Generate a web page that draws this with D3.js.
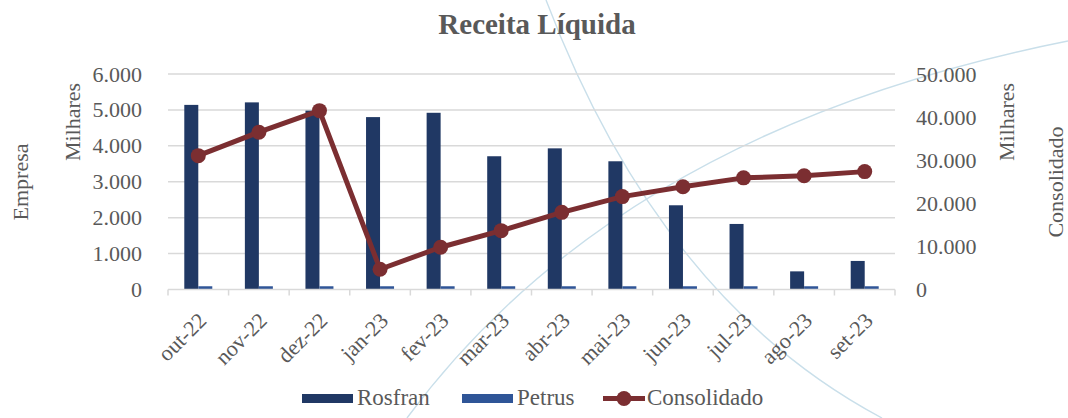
<!DOCTYPE html>
<html>
<head>
<meta charset="utf-8">
<script src="https://cdn.jsdelivr.net/npm/d3@7"></script>
<style>
  body { margin: 0; background: #fff; }
  text { font-family: "Liberation Serif", serif; fill: #595959; }
</style>
</head>
<body>
<div id="chart"></div>
<script>
// data
months = ["out-22", "nov-22", "dez-22", "jan-23", "fev-23", "mar-23",
          "abr-23", "mai-23", "jun-23", "jul-23", "ago-23", "set-23"]
rosfran = [5140, 5210, 4980, 4800, 4920, 3710, 3930, 3570, 2345, 1825, 505, 795]
petrus = [90, 90, 90, 90, 90, 90, 90, 90, 90, 90, 90, 90]
consolidado = [31050, 36500, 41500, 4700, 9800, 13650, 17900, 21550, 23850, 25900, 26400, 27350]
leftTicks = [0, 1000, 2000, 3000, 4000, 5000, 6000]
rightTicks = [0, 10000, 20000, 30000, 40000, 50000]
legendKeys = ["Rosfran", "Petrus", "Consolidado"]

width = 1068
height = 418
margin = ({top: 74, right: 173, bottom: 128.5, left: 168})

colRosfran = "#203864"
colPetrus = "#2F5597"
colCons = "#7B2E31"
gridCol = "#D9D9D9"

br = d3.formatLocale({decimal: ",", thousands: ".", grouping: [3], currency: ["R$", ""]})
fmt = br.format(",.0f")

xscale = d3.scaleBand()
    .domain(months)
    .range([margin.left, width - margin.right])

yLeft = d3.scaleLinear()
    .domain([0, 6000])
    .range([height - margin.bottom, margin.top])

yRight = d3.scaleLinear()
    .domain([0, 50000])
    .range([height - margin.bottom, margin.top])

const svg = d3.select("#chart")
  .append("svg")
    .attr("width", width)
    .attr("height", height)

// decorative background arcs
svg.append("path")
    .attr("d", "M546,0 Q660,300 882,418")
    .style("fill", "none")
    .style("stroke", "#C9DFEA")
    .style("stroke-width", 1.4)
svg.append("path")
    .attr("d", "M407,418 Q620,130 1068,41")
    .style("fill", "none")
    .style("stroke", "#C9DFEA")
    .style("stroke-width", 1.4)

// title
svg.append("text")
    .attr("x", 537)
    .attr("y", 34)
    .attr("text-anchor", "middle")
    .attr("font-size", "29px")
    .attr("font-weight", "bold")
    .text("Receita Líquida")

// gridlines
svg.append("g")
  .selectAll("line")
  .data(leftTicks.slice(1))
  .join("line")
    .attr("x1", margin.left)
    .attr("x2", width - margin.right)
    .attr("y1", d => yLeft(d))
    .attr("y2", d => yLeft(d))
    .style("stroke", gridCol)
    .style("stroke-width", 1.5)

// left axis
const gl = svg.append("g")
    .attr("transform", `translate(${margin.left},0)`)
    .call(d3.axisLeft(yLeft).tickValues(leftTicks).tickFormat(fmt).tickSize(0).tickPadding(26))
gl.select(".domain").remove()
gl.selectAll("text")
    .attr("font-size", "22px")
    .attr("font-family", "Liberation Serif, serif")
    .style("fill", "#595959")

// right axis
const gr = svg.append("g")
    .attr("transform", `translate(${width - margin.right},0)`)
    .call(d3.axisRight(yRight).tickValues(rightTicks).tickFormat(fmt).tickSize(0).tickPadding(21))
gr.select(".domain").remove()
gr.selectAll("text")
    .attr("font-size", "22px")
    .attr("font-family", "Liberation Serif, serif")
    .style("fill", "#595959")

// axis titles
function vtitle(x, y, t) {
  svg.append("text")
      .attr("transform", `translate(${x},${y}) rotate(-90)`)
      .attr("text-anchor", "middle")
      .attr("dy", "0.35em")
      .attr("font-size", "22px")
      .text(t)
}
vtitle(20, 182, "Empresa")
vtitle(72, 122, "Milhares")
vtitle(1006, 122, "Milhares")
vtitle(1055, 182, "Consolidado")

// bars
bw = 14
svg.append("g")
  .selectAll("rect")
  .data(rosfran)
  .join("rect")
    .attr("x", (d, i) => xscale(months[i]) + xscale.bandwidth() / 2 - bw)
    .attr("y", d => yLeft(d))
    .attr("width", bw)
    .attr("height", d => yLeft(0) - yLeft(d))
    .style("fill", colRosfran)

svg.append("g")
  .selectAll("rect")
  .data(petrus)
  .join("rect")
    .attr("x", (d, i) => xscale(months[i]) + xscale.bandwidth() / 2)
    .attr("y", d => yLeft(d))
    .attr("width", bw)
    .attr("height", d => yLeft(0) - yLeft(d))
    .style("fill", colPetrus)

// bottom axis
const gx = svg.append("g")
    .attr("transform", `translate(0,${height - margin.bottom})`)
gx.append("line")
    .attr("x1", margin.left)
    .attr("x2", width - margin.right)
    .style("stroke", gridCol)
    .style("stroke-width", 1.5)
gx.selectAll(".tk")
  .data(months.concat(["end"]))
  .join("line")
    .attr("class", "tk")
    .attr("x1", (d, i) => margin.left + i * xscale.step())
    .attr("x2", (d, i) => margin.left + i * xscale.step())
    .attr("y1", 0)
    .attr("y2", 6)
    .style("stroke", gridCol)
    .style("stroke-width", 1.5)
gx.selectAll(".lbl")
  .data(months)
  .join("text")
    .attr("class", "lbl")
    .attr("transform", d => `translate(${xscale(d) + xscale.bandwidth() / 2 + 4},27) rotate(-45)`)
    .attr("text-anchor", "end")
    .attr("dy", "0.35em")
    .attr("font-size", "22px")
    .text(d => d)

// consolidado line
valueline = d3.line()
    .x((d, i) => xscale(months[i]) + xscale.bandwidth() / 2)
    .y(d => yRight(d))

svg.append("path")
    .datum(consolidado)
    .attr("d", valueline)
    .style("fill", "none")
    .style("stroke", colCons)
    .style("stroke-width", 5)
    .style("stroke-linejoin", "round")

svg.append("g")
  .selectAll("circle")
  .data(consolidado)
  .join("circle")
    .attr("cx", (d, i) => xscale(months[i]) + xscale.bandwidth() / 2)
    .attr("cy", d => yRight(d))
    .attr("r", 7.5)
    .style("fill", colCons)

// legend
const lg = svg.append("g")
lg.append("rect").attr("x", 302).attr("y", 394).attr("width", 51).attr("height", 9).style("fill", colRosfran)
lg.append("rect").attr("x", 462).attr("y", 394).attr("width", 51).attr("height", 9).style("fill", colPetrus)
lg.append("line").attr("x1", 603).attr("x2", 645).attr("y1", 398.5).attr("y2", 398.5)
    .style("stroke", colCons).style("stroke-width", 5)
lg.append("circle").attr("cx", 624).attr("cy", 398.5).attr("r", 7.5).style("fill", colCons)
lg.selectAll("text")
  .data(legendKeys)
  .join("text")
    .attr("x", (d, i) => [357, 517, 647][i])
    .attr("y", 405)
    .attr("font-size", "23px")
    .text(d => d)
</script>
</body>
</html>
